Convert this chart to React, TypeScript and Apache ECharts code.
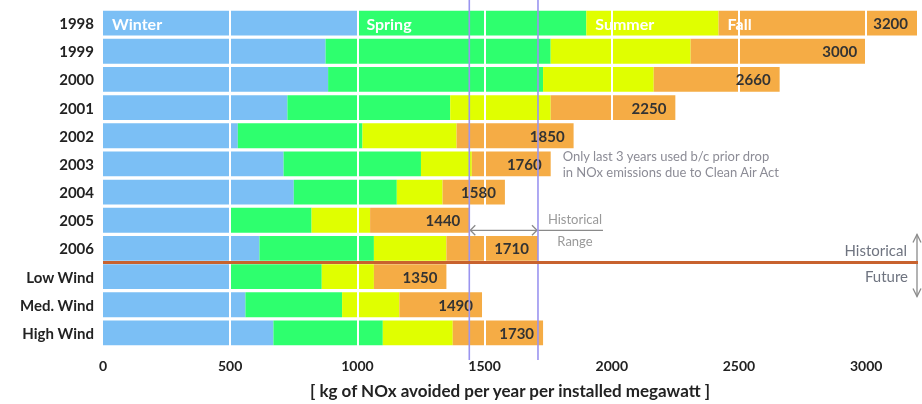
import React, { useEffect, useRef } from "react";
import * as echarts from "echarts";

const categories = ["1998", "1999", "2000", "2001", "2002", "2003", "2004", "2005", "2006", "Low Wind", "Med. Wind", "High Wind"];
const winter = [1000, 875, 885, 725, 530, 710, 750, 500, 615, 500, 560, 670];
const spring = [900, 885, 845, 640, 490, 540, 405, 320, 450, 360, 380, 430];
const summer = [520, 550, 435, 395, 370, 200, 180, 230, 285, 205, 225, 275];
const fall = [780, 690, 495, 490, 460, 310, 245, 390, 360, 285, 325, 355];
const seasonNames = ["Winter", "Spring", "Summer", "Fall"];
const seasonColors = ["#7bbff5", "#2eff6e", "#e0ff00", "#f5ac45"];
const xTicks = [500, 1000, 1500, 2000, 2500, 3000];
const historicalYears = ["2004", "2005", "2006"];

const FONT = 'Lato, "DejaVu Sans", sans-serif';

export default function App() {
  const ref = useRef<HTMLDivElement>(null);
  useEffect(() => {
    if (!ref.current) return;
    const chart = echarts.init(ref.current, undefined, { renderer: "svg" });
    const seriesData = [winter, spring, summer, fall];
    const totals = categories.map((_, i) => winter[i] + spring[i] + summer[i] + fall[i]);
    const histTotals = historicalYears.map((y) => totals[categories.indexOf(y)]);
    const lo = Math.min(...histTotals);
    const hi = Math.max(...histTotals);

    const stackSeries = seriesData.map((d, si) => ({
      type: "bar",
      name: seasonNames[si],
      stack: "total",
      barCategoryGap: "12%",
      barGap: "-100%",
      itemStyle: { color: seasonColors[si] },
      data: d.map((v, i) =>
        i === 0
          ? {
              value: v,
              label: {
                show: true,
                position: "insideLeft",
                distance: 9,
                formatter: seasonNames[si],
                color: "#ffffff",
                fontSize: 16,
                fontWeight: "bold",
                fontFamily: FONT,
              },
            }
          : v
      ),
    }));

    const option: any = {
      animation: false,
      grid: { left: 103, right: 5, top: 9, bottom: 54 },
      xAxis: {
        type: "value",
        min: 0,
        max: 3200,
        interval: 500,
        axisLine: { show: false },
        axisTick: { show: false },
        splitLine: { show: false },
        axisLabel: {
          showMaxLabel: false,
          formatter: (v: number) => String(v),
          color: "#222",
          fontSize: 14,
          fontWeight: "bold",
          fontFamily: FONT,
          margin: 11,
        },
        name: "[ kg of NOx avoided per year per installed megawatt ]",
        nameLocation: "middle",
        nameGap: 35,
        nameTextStyle: { color: "#222", fontSize: 17, fontWeight: "bold", fontFamily: FONT },
      },
      yAxis: {
        type: "category",
        data: categories,
        inverse: true,
        axisLine: { show: false },
        axisTick: { show: false },
        axisLabel: { color: "#222", fontSize: 15, fontWeight: "bold", fontFamily: FONT, margin: 9 },
      },
      series: [
        ...stackSeries,
        {
          type: "bar",
          name: "Total",
          barCategoryGap: "12%",
          barGap: "-100%",
          z: 5,
          itemStyle: { color: "rgba(0,0,0,0)" },
          label: {
            show: true,
            position: "insideRight",
            distance: 9,
            color: "#333",
            fontSize: 15,
            fontWeight: "bold",
            fontFamily: FONT,
          },
          data: totals,
          markLine: {
            silent: true,
            symbol: "none",
            label: { show: false },
            lineStyle: { color: "#ffffff", width: 2, type: "solid" },
            data: xTicks.map((t) => ({ xAxis: t })),
          },
        },
      ],
    };
    chart.setOption(option);

    const px = (v: number) => chart.convertToPixel({ xAxisIndex: 0 }, v) as number;
    const py = (c: string) => chart.convertToPixel({ yAxisIndex: 0 }, c) as number;
    const xLo = px(lo);
    const xHi = px(hi);
    const xLeft = px(0);
    const xRight = px(3200);
    const sepY = (py("2006") + py("Low Wind")) / 2;
    const band = py("1999") - py("1998");
    const gridBottom = py("High Wind") + band / 2;
    const gray = "#8a8a8a";
    const arrowY = (py("2005") + py("2006")) / 2 - 4;

    option.graphic = [
      { type: "line", z: 100, shape: { x1: xLo, y1: 0, x2: xLo, y2: gridBottom + 13 }, style: { stroke: "#9a94f0", lineWidth: 1.6 } },
      { type: "line", z: 100, shape: { x1: xHi, y1: 0, x2: xHi, y2: gridBottom + 13 }, style: { stroke: "#9a94f0", lineWidth: 1.6 } },
      { type: "line", z: 100, shape: { x1: xLeft, y1: sepY, x2: xRight + 1, y2: sepY }, style: { stroke: "#c8622e", lineWidth: 3 } },
      // Historical range arrow
      { type: "line", z: 99, shape: { x1: xLo, y1: arrowY, x2: xHi + 65, y2: arrowY }, style: { stroke: gray, lineWidth: 1.3 } },
      { type: "polyline", z: 99, shape: { points: [[xLo + 6, arrowY - 5], [xLo + 1, arrowY], [xLo + 6, arrowY + 5]] }, style: { stroke: gray, lineWidth: 1.3, fill: "none" } },
      { type: "polyline", z: 99, shape: { points: [[xHi - 6, arrowY - 5], [xHi - 1, arrowY], [xHi - 6, arrowY + 5]] }, style: { stroke: gray, lineWidth: 1.3, fill: "none" } },
      { type: "text", z: 99, x: xHi + 37, y: arrowY - 11, style: { text: "Historical", fill: "#999", font: `13px ${FONT}`, textAlign: "center", textVerticalAlign: "middle" } },
      { type: "text", z: 99, x: xHi + 37, y: arrowY + 11, style: { text: "Range", fill: "#999", font: `13px ${FONT}`, textAlign: "center", textVerticalAlign: "middle" } },
      // note
      { type: "text", z: 99, x: px(1807), y: py("2003") - 8, style: { text: "Only last 3 years used b/c prior drop", fill: "#8c8c96", font: `13px ${FONT}`, textAlign: "left", textVerticalAlign: "middle" } },
      { type: "text", z: 99, x: px(1807), y: py("2003") + 8, style: { text: "in NOx emissions due to Clean Air Act", fill: "#8c8c96", font: `13px ${FONT}`, textAlign: "left", textVerticalAlign: "middle" } },
      // Historical / Future arrow
      { type: "line", z: 99, shape: { x1: xRight, y1: sepY - 28, x2: xRight, y2: sepY + 34 }, style: { stroke: gray, lineWidth: 1.3 } },
      { type: "polyline", z: 99, shape: { points: [[xRight - 4, sepY - 20], [xRight, sepY - 28], [xRight + 4, sepY - 20]] }, style: { stroke: gray, lineWidth: 1.3, fill: "none" } },
      { type: "polyline", z: 99, shape: { points: [[xRight - 4, sepY + 26], [xRight, sepY + 34], [xRight + 4, sepY + 26]] }, style: { stroke: gray, lineWidth: 1.3, fill: "none" } },
      { type: "text", z: 99, x: xRight - 10, y: sepY - 13, style: { text: "Historical", fill: "#6f7480", font: `15px ${FONT}`, textAlign: "right", textVerticalAlign: "middle" } },
      { type: "text", z: 99, x: xRight - 9, y: sepY + 13, style: { text: "Future", fill: "#6f7480", font: `15px ${FONT}`, textAlign: "right", textVerticalAlign: "middle" } },
    ];
    chart.setOption(option);

    return () => chart.dispose();
  }, []);
  return <div ref={ref} style={{ position: "fixed", left: 0, top: 0, width: 922, height: 404 }} />;
}
